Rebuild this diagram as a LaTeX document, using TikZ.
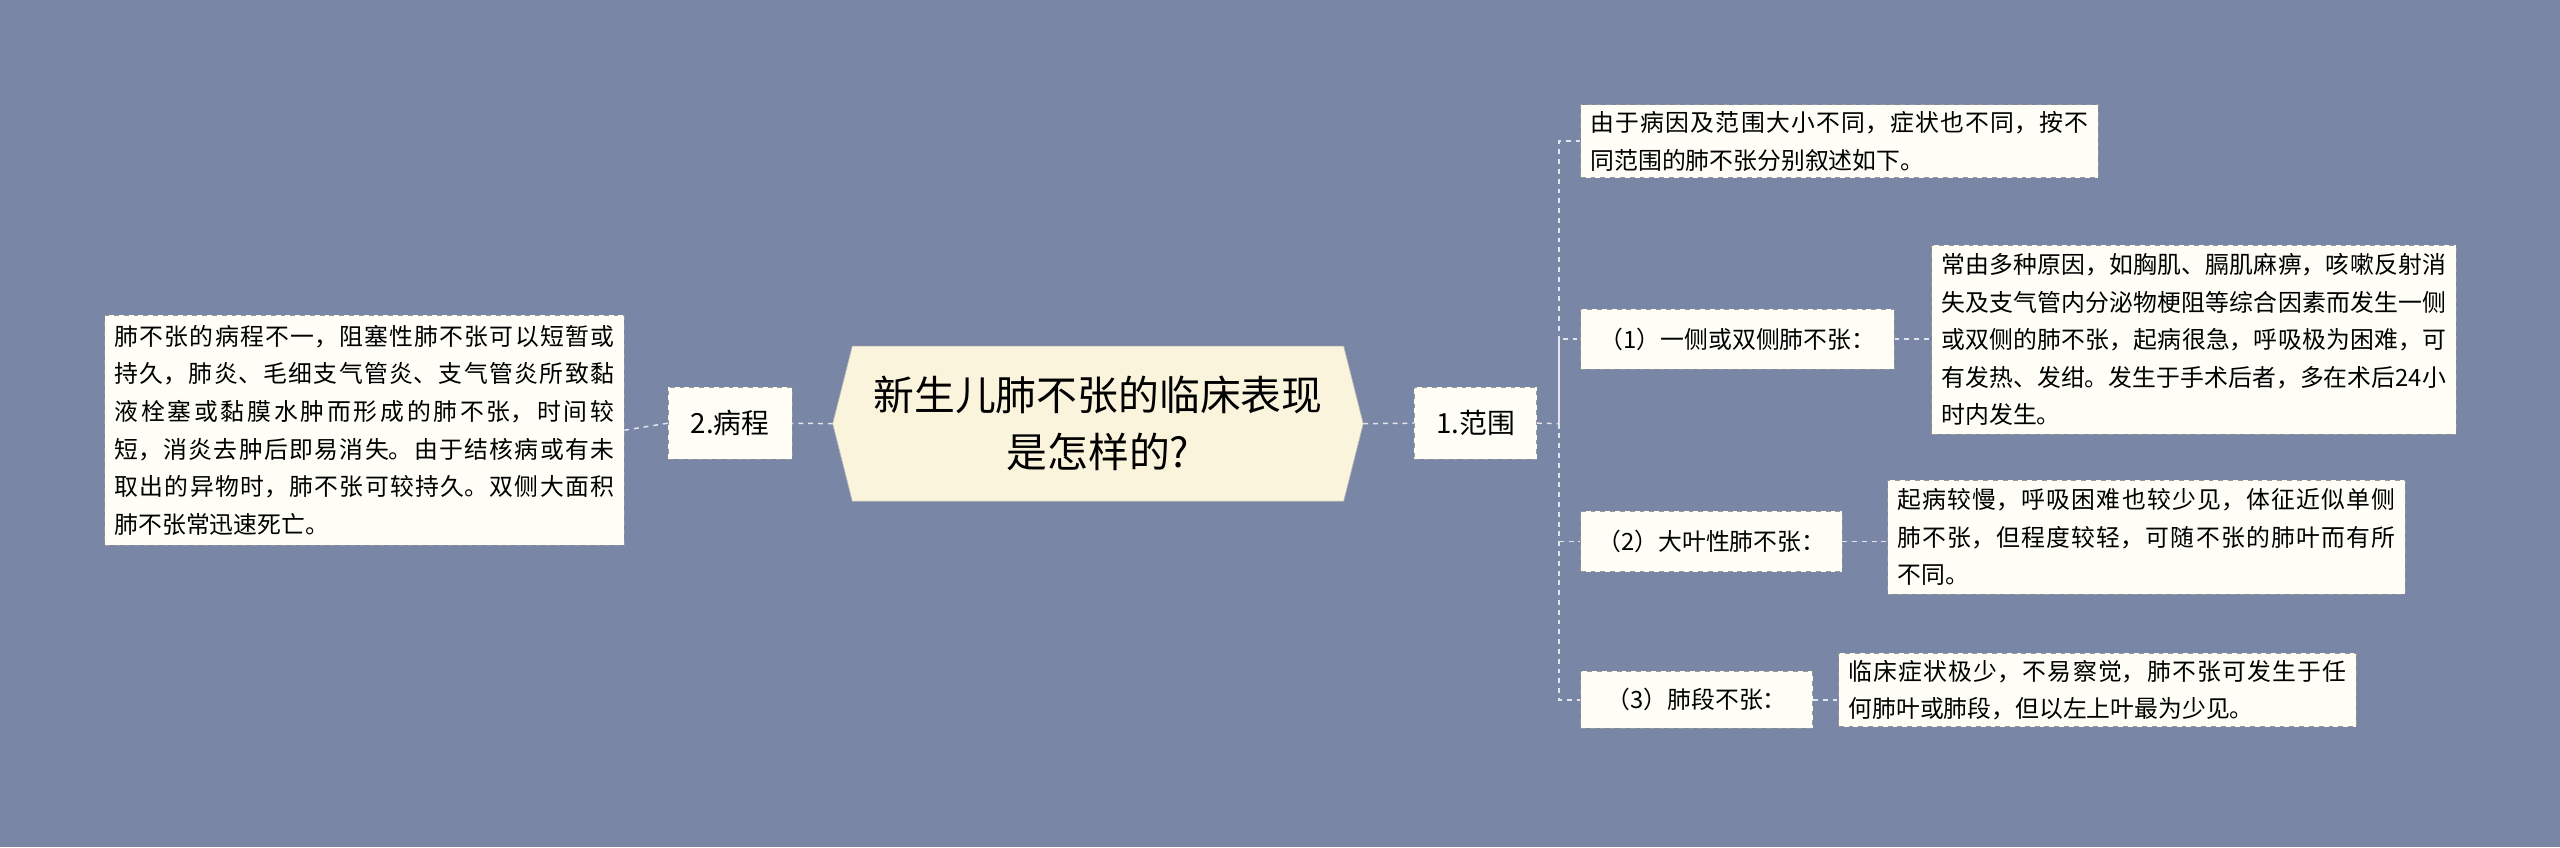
\documentclass[tikz,border=0pt]{standalone}
\usepackage{fontspec}
\setmainfont{Noto Sans CJK SC}
\XeTeXlinebreaklocale "zh"
\XeTeXlinebreakskip = 0pt plus 1pt
\begin{document}
\begin{tikzpicture}[x=1pt,y=-1pt,
  bx/.style={draw=black!40,dashed,fill=leaf,inner sep=0pt,anchor=north west,font=\fontsize{14.6}{23}\selectfont},
  con/.style={draw=lin,dashed,line width=0.9pt}]
\definecolor{bg}{HTML}{7A86A6}
\definecolor{leaf}{HTML}{FEFEF6}
\definecolor{ctr}{HTML}{FAF4DC}
\definecolor{lin}{HTML}{E4E6EE}
\fill[bg] (0,0) rectangle (1568,519);
\useasboundingbox (0,0) rectangle (1568,519);
% center
\fill[ctr,draw=black!30] (522,212) -- (823,212) -- (835,259.5) -- (823,307) -- (522,307) -- (510,259.5) -- cycle;
\node[align=center,font=\fontsize{25}{35}\selectfont] (c) at (672.5,259.5) {新生儿肺不张的临床表现\\是怎样的?};
\coordinate (cl) at (510,259.5); \coordinate (cr) at (835,259.5);
% level 1
\node[bx,minimum width=75,minimum height=44,font=\fontsize{17}{20}\selectfont] (r) at (866,237) {1.范围};
\node[bx,minimum width=76,minimum height=44,font=\fontsize{17}{20}\selectfont] (l) at (409,237) {2.病程};
\node[bx,text width=306,inner xsep=6pt,inner ysep=6pt,align=justify] (ll) at (64,193) {肺不张的病程不一，阻塞性肺不张可以短暂或持久，肺炎、毛细支气管炎、支气管炎所致黏液栓塞或黏膜水肿而形成的肺不张，时间较短，消炎去肿后即易消失。由于结核病或有未取出的异物时，肺不张可较持久。双侧大面积肺不张常迅速死亡。};
% right
\node[bx,text width=305,inner xsep=6pt,inner ysep=4pt,align=justify] (a0) at (968,64) {由于病因及范围大小不同，症状也不同，按不同范围的肺不张分别叙述如下。};
\node[bx,minimum width=192,minimum height=37] (a1) at (968,189) {（1）一侧或双侧肺不张：};
\node[bx,text width=309,inner xsep=6pt,inner ysep=5pt,align=justify] (b1) at (1183,150) {常由多种原因，如胸肌、膈肌麻痹，咳嗽反射消失及支气管内分泌物梗阻等综合因素而发生一侧或双侧的肺不张，起病很急，呼吸极为困难，可有发热、发绀。发生于手术后者，多在术后24小时内发生。};
\node[bx,minimum width=160,minimum height=37] (a2) at (968,313) {（2）大叶性肺不张：};
\node[bx,text width=305,inner xsep=6pt,inner ysep=5pt,align=justify] (b2) at (1156,294) {起病较慢，呼吸困难也较少见，体征近似单侧肺不张，但程度较轻，可随不张的肺叶而有所不同。};
\node[bx,minimum width=142,minimum height=35] (a3) at (968,411) {（3）肺段不张：};
\node[bx,text width=305,inner xsep=6pt,inner ysep=4pt,align=justify] (b3) at (1126,400) {临床症状极少，不易察觉，肺不张可发生于任何肺叶或肺段，但以左上叶最为少见。};
% connectors
\draw[con] (cr) -- (r.west);
\draw[con] (cl) -- (l.east);
\draw[con] (l.west) -- (ll.east);
\coordinate (t) at (955,259.5);
\draw[con] (r.east) -- (t);
\draw[con] (a0.west) -| (t) |- (a3.west);
\draw[con] (t) |- (a1.west);
\draw[con] (t) |- (a2.west);
\draw[con] (a1.east) -- (a1.east -| b1.west);
\draw[con] (a2.east) -- (a2.east -| b2.west);
\draw[con] (a3.east) -- (a3.east -| b3.west);
\end{tikzpicture}
\end{document}
